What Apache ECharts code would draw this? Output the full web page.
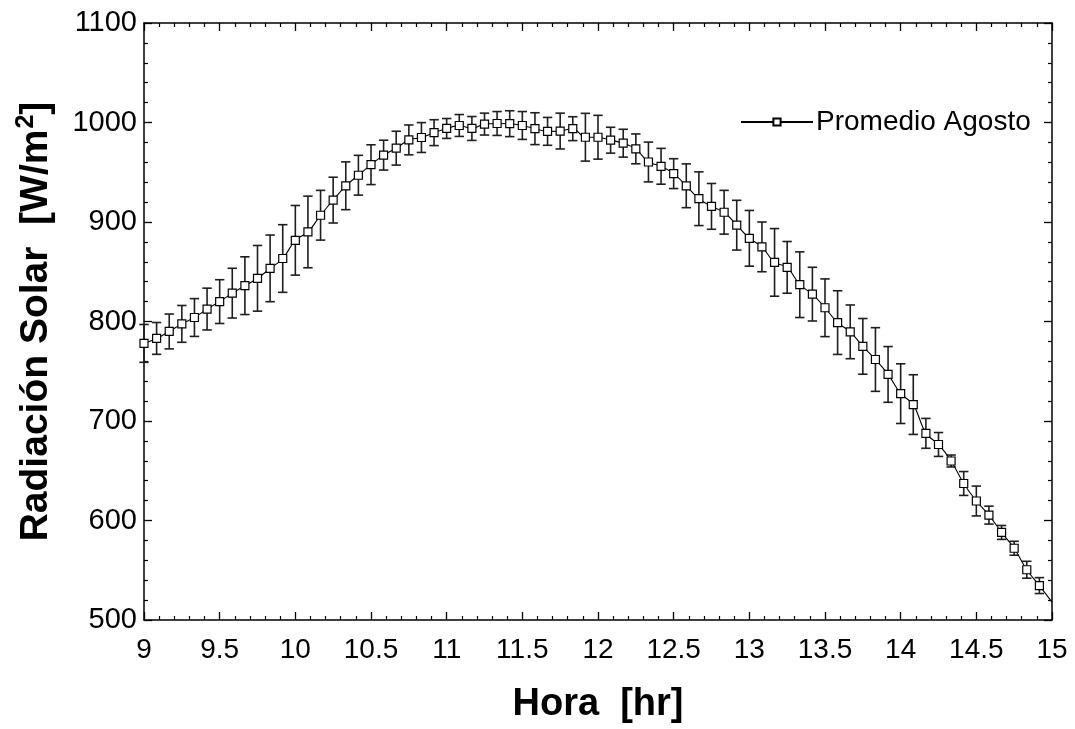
<!DOCTYPE html>
<html>
<head>
<meta charset="utf-8">
<title>Radiación Solar - Promedio Agosto</title>
<script src="https://cdn.jsdelivr.net/npm/echarts@6/dist/echarts.min.js"></script>
<style>
  html, body { margin: 0; padding: 0; background: #fff; }
  #chart { width: 1075px; height: 729px; }
</style>
</head>
<body>
<div id="chart"></div>
<script>
// Hour of day, one reading every 5 minutes from 9:00 to 15:00
const hours = [
  9, 9.0833, 9.1667, 9.25, 9.3333, 9.4167, 9.5, 9.5833, 9.6667, 9.75, 9.8333, 9.9167,
  10, 10.0833, 10.1667, 10.25, 10.3333, 10.4167, 10.5, 10.5833, 10.6667, 10.75, 10.8333, 10.9167,
  11, 11.0833, 11.1667, 11.25, 11.3333, 11.4167, 11.5, 11.5833, 11.6667, 11.75, 11.8333, 11.9167,
  12, 12.0833, 12.1667, 12.25, 12.3333, 12.4167, 12.5, 12.5833, 12.6667, 12.75, 12.8333, 12.9167,
  13, 13.0833, 13.1667, 13.25, 13.3333, 13.4167, 13.5, 13.5833, 13.6667, 13.75, 13.8333, 13.9167,
  14, 14.0833, 14.1667, 14.25, 14.3333, 14.4167, 14.5, 14.5833, 14.6667, 14.75, 14.8333, 14.9167,
  15
];

// Mean August solar radiation [W/m2]
const radiation = [
  778, 783, 790, 797.6, 804, 812.5, 820, 828.5, 836, 843.4, 853.4, 863.3,
  881.6, 890, 906.8, 922, 936.4, 947, 957.6, 967.2, 974.2, 982.5, 984.9, 989.8,
  994, 997, 994, 998.4, 999, 998.8, 997, 993.8, 991.1, 991.4, 993.8, 985.2,
  985.2, 982.2, 979.2, 973.5, 960.3, 956, 948.6, 936.4, 923.4, 915.7, 909.8, 896.8,
  883.6, 875, 859.4, 854.4, 837, 827.5, 813.8, 798.9, 789.6, 775, 761.8, 746.8,
  727.5, 716.5, 687.6, 676.4, 659.8, 637.2, 619.6, 605.4, 588, 572.1, 550.5, 534.6,
  518
];

// Standard deviation of each reading [W/m2] (0 = no error bar)
const deviation = [
  19, 16, 17.5, 18.5, 19, 21, 22, 25, 29, 33, 33.5, 34,
  35, 36, 25, 23, 24, 20, 20, 15, 17, 15, 15, 13,
  10, 11, 12, 11, 12, 13, 14, 16, 14, 18, 12, 24,
  22, 13, 14, 15, 20, 18, 15, 22, 27, 23, 22, 25,
  28, 25, 34, 26, 33, 27, 29, 32, 27, 28, 32, 28,
  30, 30, 15, 12, 6, 12, 15, 9, 7, 7, 8.5, 8,
  0
];

const xTicks = [9, 9.5, 10, 10.5, 11, 11.5, 12, 12.5, 13, 13.5, 14, 14.5, 15];
const yTicks = [500, 600, 700, 800, 900, 1000, 1100];

const seriesName = 'Promedio Agosto';
const FONT = '"Liberation Sans", Arial, Helvetica, sans-serif';

const lineData = hours.map((h, i) => {
  const item = { value: [h, radiation[i]] };
  if (deviation[i] === 0) item.symbol = 'none';
  return item;
});

const errorData = [];
hours.forEach((h, i) => {
  if (deviation[i] > 0) errorData.push([h, radiation[i] - deviation[i], radiation[i] + deviation[i]]);
});

const xMin = xTicks[0], xMax = xTicks[xTicks.length - 1];
const yMin = yTicks[0], yMax = yTicks[yTicks.length - 1];

function frameAxis(extra) {
  return Object.assign({
    type: 'value',
    axisLine: { show: true, onZero: false, lineStyle: { color: '#000', width: 1.5 } },
    axisTick: { show: true, inside: true, length: 8, lineStyle: { color: '#000', width: 1.3 } },
    minorTick: { show: true, splitNumber: 5, length: 4, lineStyle: { color: '#000', width: 1.2 } },
    splitLine: { show: false },
    minorSplitLine: { show: false }
  }, extra);
}

const chart = echarts.init(document.getElementById('chart'), null, { renderer: 'canvas' });

chart.setOption({
  backgroundColor: '#fff',
  animation: false,
  textStyle: { fontFamily: FONT, color: '#000' },
  grid: { left: 144, right: 23, top: 23, bottom: 104, containLabel: false },
  legend: {
    data: [seriesName],
    left: 735,
    top: 103,
    itemWidth: 72,
    itemHeight: 9,
    textStyle: { fontFamily: FONT, fontSize: 28, color: '#000', padding: [0, 0, 0, -2] }
  },
  xAxis: [
    frameAxis({
      position: 'bottom',
      min: xMin, max: xMax, interval: 0.5,
      name: 'Hora  [hr]',
      nameLocation: 'middle',
      nameGap: 66,
      nameTextStyle: { fontFamily: FONT, fontSize: 38, fontWeight: 'bold', color: '#000' },
      axisLabel: { show: true, margin: 16, fontSize: 28, fontFamily: FONT, color: '#000',
        formatter: v => String(v) }
    }),
    frameAxis({
      position: 'top',
      min: xMin, max: xMax, interval: 0.5,
      axisLabel: { show: false }
    })
  ],
  yAxis: [
    frameAxis({
      position: 'left',
      min: yMin, max: yMax, interval: 100,
      name: '{t|Radiación Solar  [W/m}{s|2}{t|]}',
      nameLocation: 'middle',
      nameGap: 88,
      nameRotate: 90,
      nameTextStyle: {
        rich: {
          t: { fontFamily: FONT, fontSize: 39, fontWeight: 'bold', color: '#000', lineHeight: 44, verticalAlign: 'bottom' },
          s: { fontFamily: FONT, fontSize: 25, fontWeight: 'bold', color: '#000', lineHeight: 44, verticalAlign: 'top', padding: [2, 0, 0, 1] }
        }
      },
      axisLabel: { show: true, margin: 7, fontSize: 29, fontFamily: FONT, color: '#000',
        formatter: v => String(v) }
    }),
    frameAxis({
      position: 'right',
      min: yMin, max: yMax, interval: 100,
      axisLabel: { show: false }
    })
  ],
  series: [
    {
      name: 'error',
      type: 'custom',
      xAxisIndex: 0,
      yAxisIndex: 0,
      z: 1,
      silent: true,
      data: errorData,
      encode: { x: 0, y: [1, 2] },
      renderItem: function (params, api) {
        const x = api.value(0);
        const top = api.coord([x, api.value(2)]);
        const bot = api.coord([x, api.value(1)]);
        const hw = 4.7;
        const style = { stroke: '#1e1e1e', lineWidth: 1.6, fill: null };
        return {
          type: 'group',
          children: [
            { type: 'line', shape: { x1: top[0], y1: top[1], x2: bot[0], y2: bot[1] }, style: style },
            { type: 'line', shape: { x1: top[0] - hw, y1: top[1], x2: top[0] + hw, y2: top[1] }, style: style },
            { type: 'line', shape: { x1: bot[0] - hw, y1: bot[1], x2: bot[0] + hw, y2: bot[1] }, style: style }
          ]
        };
      }
    },
    {
      name: seriesName,
      type: 'line',
      xAxisIndex: 0,
      yAxisIndex: 0,
      z: 3,
      smooth: 0.35,
      data: lineData,
      symbol: 'rect',
      symbolSize: 8,
      showAllSymbol: true,
      lineStyle: { color: '#000', width: 1.1 },
      itemStyle: { color: '#fff', borderColor: '#000', borderWidth: 1.2 }
    }
  ]
});
</script>
</body>
</html>
